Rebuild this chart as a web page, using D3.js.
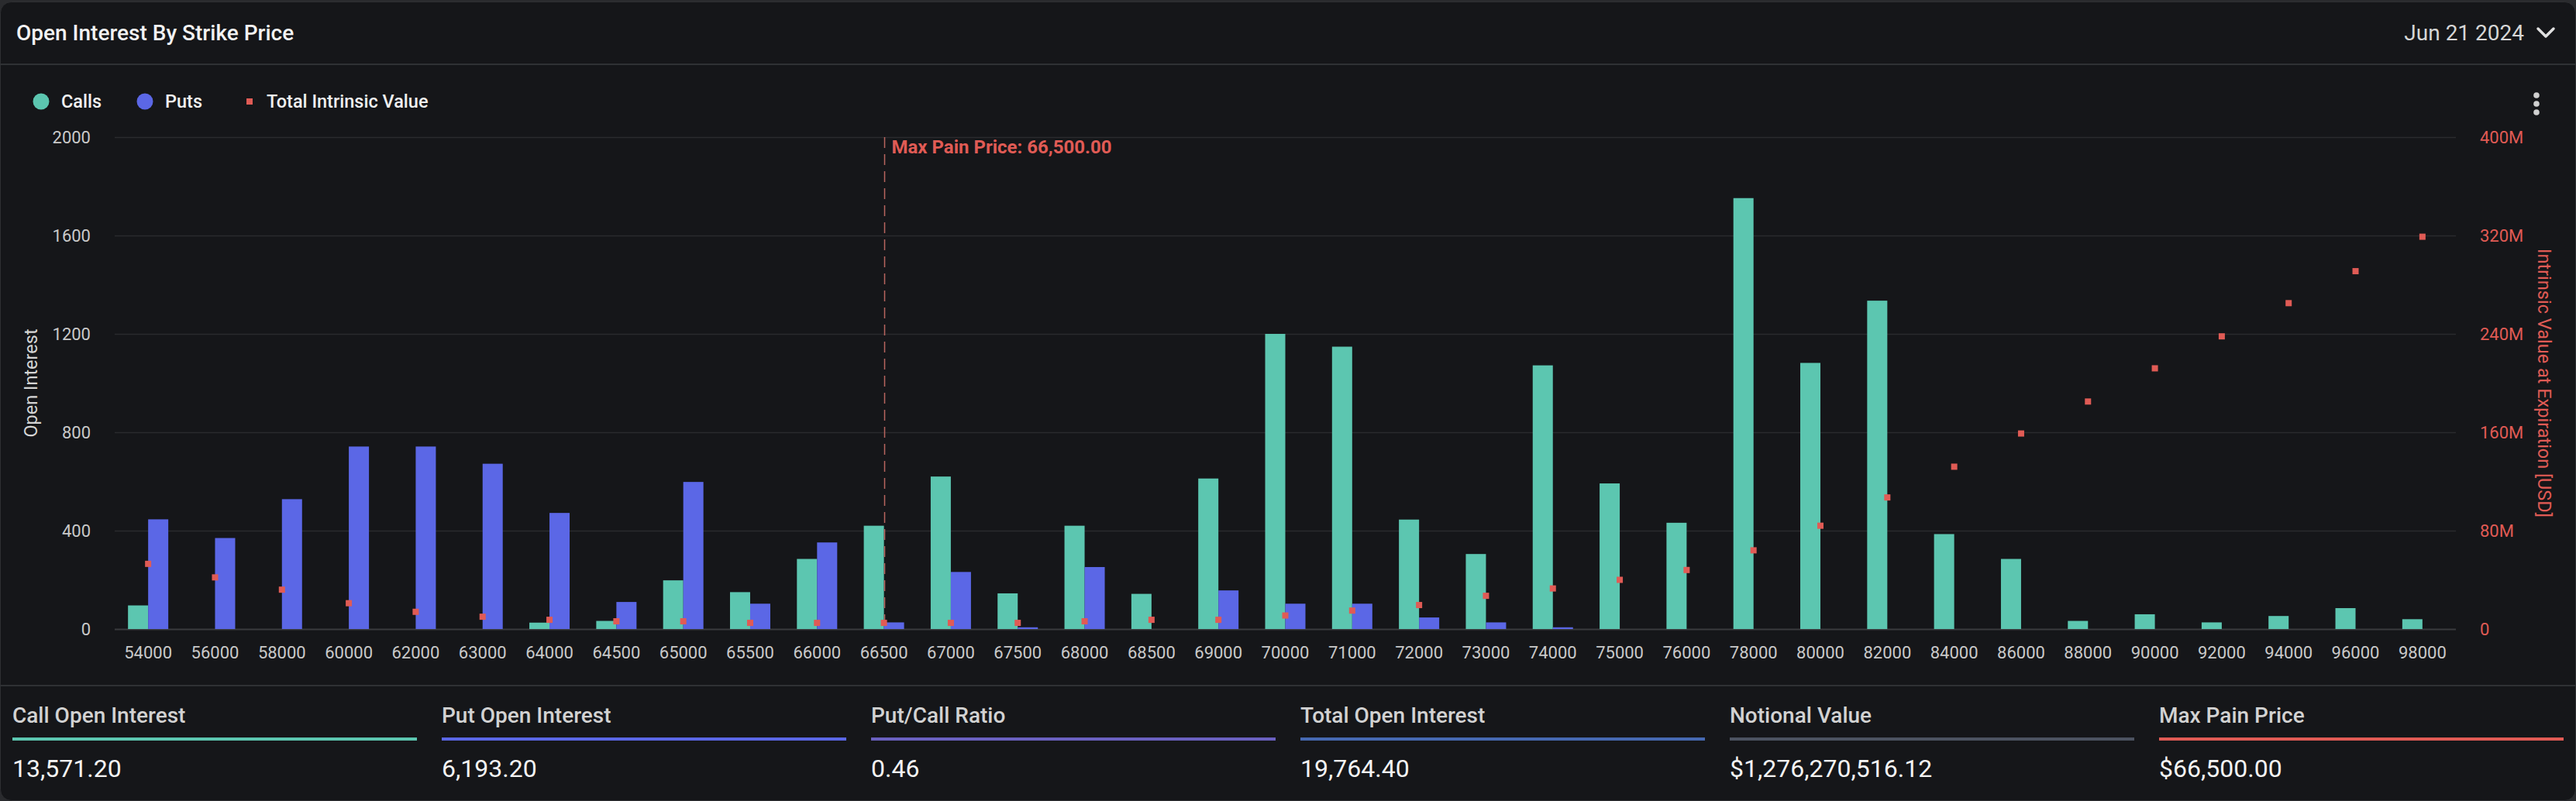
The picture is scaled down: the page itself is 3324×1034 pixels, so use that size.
<!DOCTYPE html>
<html>
<head>
<meta charset="utf-8">
<script src="https://cdn.jsdelivr.net/npm/d3@7"></script>
<style>
  html, body { margin: 0; padding: 0; background: #2a2b2e; }
  svg { display: block; }
  text { font-family: Roboto, "Noto Sans", sans-serif; }
</style>
</head>
<body>
<svg id="chart" width="3324" height="1034"></svg>
<script>
// ---------------- data ----------------
const strikes = ["54000","56000","58000","60000","62000","63000","64000","64500","65000","65500","66000","66500","67000","67500","68000","68500","69000","70000","71000","72000","73000","74000","75000","76000","78000","80000","82000","84000","86000","88000","90000","92000","94000","96000","98000"];
const calls = [96,0,0,0,0,0,26,33,198,150,285,420,620,145,420,143,612,1200,1148,445,305,1072,592,432,1752,1082,1335,386,285,33,60,27,53,85,40];
const puts  = [446,370,528,742,742,672,472,110,598,103,352,27,232,7,252,0,157,103,103,47,27,7,0,0,0,0,0,0,0,0,0,0,0,0,0];
const intrinsic = [53,42,32,21,14,10,7.5,6.3,6.3,5,5,5,5,5,6.3,7.5,7.5,11,15,19.5,27,33,40,48,64,84,107,132,159,185,212,238,265,291,319]; // millions USD
const leftTicks = [0,400,800,1200,1600,2000];
const rightTicks = [0,80,160,240,320,400]; // millions
const maxPain = "66500";
const maxPainLabel = "Max Pain Price: 66,500.00";
const statLabels = ["Call Open Interest","Put Open Interest","Put/Call Ratio","Total Open Interest","Notional Value","Max Pain Price"];
const statValues = ["13,571.20","6,193.20","0.46","19,764.40","$1,276,270,516.12","$66,500.00"];
const statColors = ["#5cc6b0","#5b67e6","#6b61c0","#4669b2","#4c5361","#e05b55"];

// ---------------- layout ----------------
const W = 3324, H = 1034;
const plot = {left: 148, right: 3169, top: 177, bottom: 812};
const C_CALL = "#5cc6b0", C_PUT = "#5b67e6", C_RED = "#e05b55";

const svg = d3.select("#chart");

// card
svg.append("rect").attr("x", 0.5).attr("y", 2.5).attr("width", W - 1).attr("height", H - 3)
  .attr("rx", 14).attr("fill", "#151619").attr("stroke", "#2e2f32").attr("stroke-width", 1);

// header
svg.append("text").attr("x", 21).attr("y", 42).attr("dy", "0.35em")
  .attr("font-size", 28).attr("font-weight", 500).attr("fill", "#f2f2f2")
  .text("Open Interest By Strike Price");
svg.append("text").attr("x", 3257).attr("y", 42).attr("dy", "0.35em").attr("text-anchor", "end")
  .attr("font-size", 28).attr("fill", "#d6d6d6").text("Jun 21 2024");
svg.append("path").attr("d", "M3275,37 L3285,47 L3295,37").attr("fill", "none")
  .attr("stroke", "#e0e0e0").attr("stroke-width", 3.5).attr("stroke-linecap", "round").attr("stroke-linejoin", "round");
svg.append("rect").attr("x", 0).attr("y", 82).attr("width", W).attr("height", 2).attr("fill", "#2f3134");

// menu dots
[123, 134, 145].forEach(cy => svg.append("circle").attr("cx", 3273).attr("cy", cy).attr("r", 3.8).attr("fill", "#d0d0d0"));

// legend
const lg = svg.append("g").attr("font-size", 23.5).attr("font-weight", 500).attr("fill", "#f0f0f0");
lg.append("circle").attr("cx", 53).attr("cy", 131).attr("r", 10.5).attr("fill", C_CALL);
lg.append("text").attr("x", 79).attr("y", 131).attr("dy", "0.35em").text("Calls");
lg.append("circle").attr("cx", 187).attr("cy", 131).attr("r", 10.5).attr("fill", C_PUT);
lg.append("text").attr("x", 213).attr("y", 131).attr("dy", "0.35em").text("Puts");
lg.append("rect").attr("x", 318).attr("y", 127).attr("width", 8).attr("height", 8).attr("fill", C_RED);
lg.append("text").attr("x", 344).attr("y", 131).attr("dy", "0.35em").text("Total Intrinsic Value");

// scales
const x = d3.scaleBand().domain(strikes).range([plot.left, plot.right]).paddingInner(0).paddingOuter(0);
const xs = d3.scaleBand().domain(["call","put"]).range([0, x.bandwidth()]).paddingInner(0).paddingOuter(0.66);
const y = d3.scaleLinear().domain([0, 2000]).range([plot.bottom, plot.top]);
const yr = d3.scaleLinear().domain([0, 400]).range([plot.bottom, plot.top]);

// grid
const grid = svg.append("g");
grid.selectAll("line").data(leftTicks).join("line")
  .attr("x1", plot.left).attr("x2", plot.right)
  .attr("y1", d => Math.round(y(d)) + 0.5).attr("y2", d => Math.round(y(d)) + 0.5)
  .attr("stroke", d => d === 0 ? "#3a3b3e" : "#2a2b2e").attr("stroke-width", d => d === 0 ? 2 : 1.5);

// left axis
const yAxis = d3.axisLeft(y).tickValues(leftTicks).tickSize(0).tickPadding(0).tickFormat(d3.format("d"));
const gy = svg.append("g").attr("transform", `translate(${117},0)`).call(yAxis);
gy.select(".domain").remove();
gy.selectAll("text").attr("font-size", 22).attr("fill", "#c9c9c9").attr("font-family", "Roboto, sans-serif");

// right axis
const yrAxis = d3.axisRight(yr).tickValues(rightTicks).tickSize(0).tickPadding(0).tickFormat(d => d === 0 ? "0" : d + "M");
const gyr = svg.append("g").attr("transform", `translate(${3200},0)`).call(yrAxis);
gyr.select(".domain").remove();
gyr.selectAll("text").attr("font-size", 22).attr("fill", C_RED).attr("font-family", "Roboto, sans-serif");

// x axis
const xAxis = d3.axisBottom(x).tickSize(0).tickPadding(0);
const gx = svg.append("g").attr("transform", `translate(0,${842})`).call(xAxis);
gx.select(".domain").remove();
gx.selectAll("text").attr("dy", "0.35em").attr("font-size", 22).attr("fill", "#c9c9c9").attr("font-family", "Roboto, sans-serif");

// axis titles
svg.append("text").attr("transform", `translate(40,${(plot.top + plot.bottom) / 2}) rotate(-90)`)
  .attr("text-anchor", "middle").attr("dy", "0.35em").attr("font-size", 23.5).attr("fill", "#d4d4d4").text("Open Interest");
svg.append("text").attr("transform", `translate(3283,${(plot.top + plot.bottom) / 2}) rotate(90)`)
  .attr("text-anchor", "middle").attr("dy", "0.35em").attr("font-size", 23.5).attr("fill", C_RED).text("Intrinsic Value at Expiration [USD]");

// bars
const rows = strikes.map((s, i) => ({s, call: calls[i], put: puts[i], iv: intrinsic[i]}));
const bars = svg.append("g");
bars.selectAll("rect.call").data(rows).join("rect").attr("class", "call")
  .attr("x", d => x(d.s) + xs("call")).attr("width", xs.bandwidth())
  .attr("y", d => y(d.call)).attr("height", d => y(0) - y(d.call)).attr("fill", C_CALL);
bars.selectAll("rect.put").data(rows).join("rect").attr("class", "put")
  .attr("x", d => x(d.s) + xs("put")).attr("width", xs.bandwidth())
  .attr("y", d => y(d.put)).attr("height", d => y(0) - y(d.put)).attr("fill", C_PUT);

// max pain line
const mpx = Math.round(x(maxPain) + x.bandwidth() / 2) + 0.5;
svg.append("line").attr("x1", mpx).attr("x2", mpx).attr("y1", plot.top).attr("y2", plot.bottom)
  .attr("stroke", "#b9655f").attr("stroke-width", 1.5).attr("stroke-dasharray", "14 8");
svg.append("text").attr("x", mpx + 9).attr("y", 190).attr("dy", "0.35em")
  .attr("font-size", 24).attr("font-weight", 700).attr("fill", C_RED).text(maxPainLabel);

// intrinsic markers
svg.append("g").selectAll("rect").data(rows).join("rect")
  .attr("x", d => x(d.s) + x.bandwidth() / 2 - 4).attr("y", d => yr(d.iv) - 4)
  .attr("width", 8).attr("height", 8).attr("fill", C_RED);

// bottom stats
svg.append("rect").attr("x", 0).attr("y", 884).attr("width", W).attr("height", 2).attr("fill", "#2f3134");
const colW = 522, gap = 32, x0 = 16;
statLabels.forEach((lab, i) => {
  const cx = x0 + i * (colW + gap);
  svg.append("text").attr("x", cx).attr("y", 923).attr("dy", "0.35em").attr("font-size", 28)
    .attr("font-weight", 500).attr("fill", "#d2d2d2").text(lab);
  svg.append("rect").attr("x", cx).attr("y", 952).attr("width", colW).attr("height", 4).attr("fill", statColors[i]);
  svg.append("text").attr("x", cx).attr("y", 992).attr("dy", "0.35em").attr("font-size", 32)
    .attr("fill", "#f4f4f4").text(statValues[i]);
});
</script>
</body>
</html>
